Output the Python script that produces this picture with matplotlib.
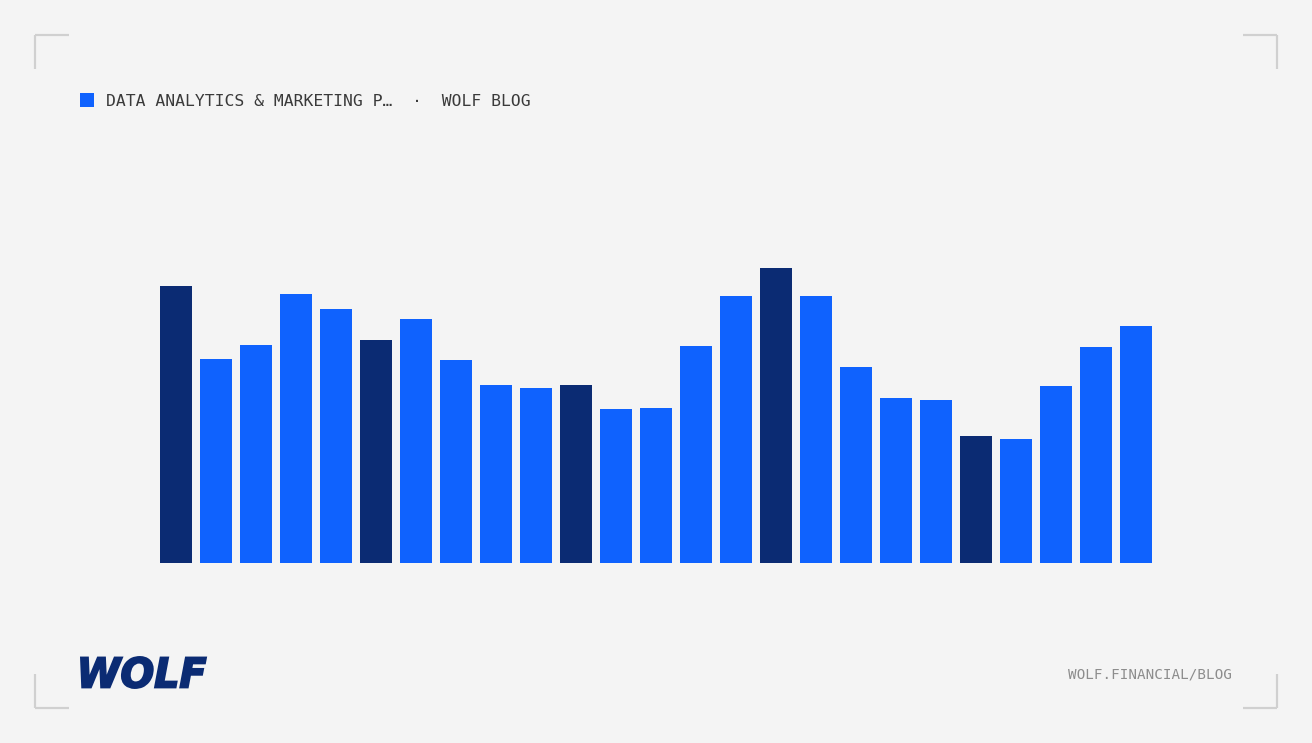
"""Wolf blog card: bar series for 'Data Analytics & Marketing P…'."""
import matplotlib
matplotlib.use("Agg")
import matplotlib.pyplot as plt
from matplotlib.font_manager import FontProperties
from matplotlib.patches import PathPatch
from matplotlib.textpath import TextPath
from matplotlib.transforms import Affine2D

BG = "#f4f4f4"
BLUE = "#0f62fe"
NAVY = "#0b2b73"

# bar heights (pixels above the baseline)
values = [277, 204, 218, 269, 254, 223, 244, 203, 178, 175, 178, 154, 155,
          217, 267, 295, 267, 196, 165, 163, 127, 124, 177, 216, 237]
highlight = [0, 5, 10, 15, 20]  # darker bars

title = "DATA ANALYTICS & MARKETING P…  ·  WOLF BLOG"
footer = "WOLF.FINANCIAL/BLOG"
logo = "WOLF"

W, H = 1312, 743
fig = plt.figure(figsize=(W / 100, H / 100), dpi=100, facecolor=BG)

# chart area: x from 160 to 1152 px, baseline at 563 px
ax = fig.add_axes([160 / W, (H - 563) / H, 992 / W, 300 / H])
ax.set_facecolor(BG)
colors = [NAVY if i in highlight else BLUE for i in range(len(values))]
ax.bar(range(len(values)), values, width=0.8, color=colors, linewidth=0)
ax.set_xlim(-0.4, len(values) - 0.6)
ax.set_ylim(0, 300)
ax.axis("off")

# overlay in pixel coordinates for the card furniture
ov = fig.add_axes([0, 0, 1, 1], zorder=-1)
ov.set_xlim(0, W)
ov.set_ylim(H, 0)
ov.axis("off")
ov.set_facecolor(BG)

corner = dict(color="#d0d0d0", lw=1.6, solid_capstyle="butt")
for x0, xs in ((35, 1), (1277, -1)):
    for y0, ys in ((35, 1), (708, -1)):
        ov.plot([x0, x0 + 34 * xs], [y0, y0], **corner)
        ov.plot([x0, x0], [y0, y0 + 34 * ys], **corner)

ov.add_patch(plt.Rectangle((80, 92.5), 14, 14, color=BLUE, lw=0))
ov.text(106, 106, title, family="DejaVu Sans Mono", fontsize=11.8,
        color="#3a3a3a", va="baseline", ha="left")
ov.text(1232, 675, footer, family="DejaVu Sans Mono", fontsize=10.3,
        color="#8d8d8d", va="center", ha="right")

# logo: heavy italic text path fitted into its box
tp = TextPath((0, 0), logo, size=100,
              prop=FontProperties(family="DejaVu Sans", weight="bold",
                                  style="oblique"))
ext = tp.get_extents()
bx0, bx1, by0, by1 = 81, 206, 657, 688
sx = (bx1 - bx0) / ext.width
sy = (by1 - by0) / ext.height
tr = Affine2D().translate(-ext.x0, -ext.y0).scale(sx, -sy).translate(bx0, by1)
ov.add_patch(PathPatch(tr.transform_path(tp), facecolor=NAVY,
                       edgecolor=NAVY, lw=1.4, joinstyle="miter"))

fig.savefig("out.png", dpi=100, facecolor=BG)
